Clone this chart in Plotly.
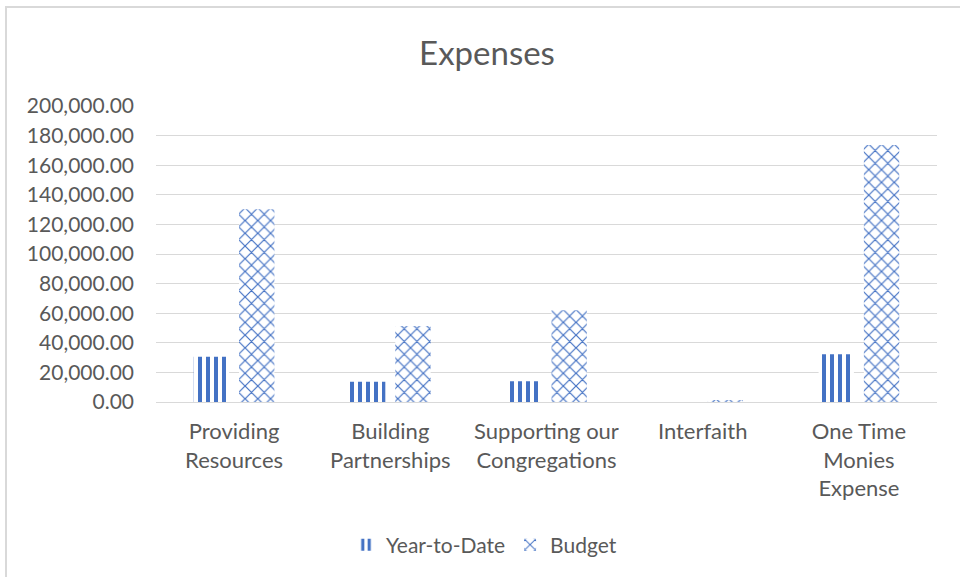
import plotly.graph_objects as go

categories = ["Providing<br>Resources", "Building<br>Partnerships", "Supporting our<br>Congregations",
              "Interfaith", "One Time<br>Monies<br>Expense"]
ytd_values = [30600, 13700, 14000, 0, 32200]
budget_values = [130200, 51400, 62000, 1200, 173600]
y_tickvals = [0, 20000, 40000, 60000, 80000, 100000, 120000, 140000, 160000, 180000, 200000]

BLUE = "#4472C4"
TXT = "#595959"
FONT = "Lato"

fig = go.Figure()
fig.add_trace(go.Bar(
    name="Year-to-Date", x=categories, y=ytd_values,
    marker=dict(color="white", line=dict(width=0),
                pattern=dict(shape="|", fgcolor=BLUE, bgcolor="white", fgopacity=1,
                             size=8, solidity=0.5)),
))
fig.add_trace(go.Bar(
    name="Budget", x=categories, y=budget_values,
    marker=dict(color="white", line=dict(width=0),
                pattern=dict(shape="x", fgcolor=BLUE, bgcolor="white", fgopacity=1,
                             size=9, solidity=0.25)),
))

W, H = 960, 577
ml, mr, mt, mb = 156, 23, 106, 175
pw, ph = W - ml - mr, H - mt - mb

def px_x(p):
    return (p - ml) / pw

def px_y(p):
    return (H - mb - p) / ph

fig.update_layout(
    width=W, height=H,
    margin=dict(l=ml, r=mr, t=mt, b=mb),
    paper_bgcolor="white", plot_bgcolor="white",
    barmode="group", bargap=0.42, bargroupgap=0.22,
    font=dict(family=FONT, size=20, color=TXT),
    title=dict(text="Expenses", x=487 / W, xanchor="center", y=1 - 53 / H, yanchor="middle",
               xref="container", yref="container",
               font=dict(family=FONT, size=33, color=TXT)),
    showlegend=True,
    legend=dict(orientation="h", x=px_x(484), xanchor="center", y=px_y(545), yanchor="middle",
                font=dict(family=FONT, size=21, color=TXT), itemwidth=30,
                traceorder="normal"),
    xaxis=dict(showgrid=False, showline=False, ticks="", ticklabelstandoff=14,
               tickfont=dict(family=FONT, size=22, color=TXT)),
    yaxis=dict(range=[0, 200000], tickvals=y_tickvals, tickformat=",.2f",
               showgrid=True, gridcolor="#D9D9D9", gridwidth=1,
               zeroline=True, zerolinecolor="#D9D9D9", zerolinewidth=1,
               showline=False, ticks="", ticklabelstandoff=21,
               tickfont=dict(family=FONT, size=21, color=TXT)),
)

# chart border
fig.add_shape(type="rect", xref="paper", yref="paper",
              x0=px_x(6), x1=px_x(W + 5), y0=px_y(H + 5), y1=px_y(7),
              line=dict(color="#D9D9D9", width=2), fillcolor="rgba(0,0,0,0)", layer="below")

fig.write_html("out.html", config={"displayModeBar": False},
               post_script="document.body.style.margin='0px';")
